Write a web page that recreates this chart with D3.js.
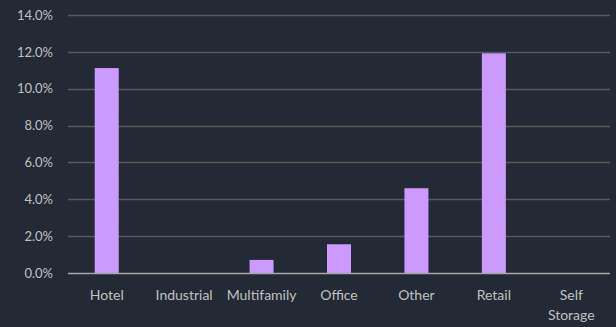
<!DOCTYPE html>
<html>
<head>
<meta charset="utf-8">
<script src="https://cdn.jsdelivr.net/npm/d3@7"></script>
<style>
  html, body { margin: 0; padding: 0; background: #232a35; }
  svg { display: block; }
</style>
</head>
<body>
<svg id="chart" width="616" height="327"></svg>
<script>
// --- chart data ---
var categories = ['Hotel', 'Industrial', 'Multifamily', 'Office', 'Other', 'Retail', 'Self Storage'];
var values     = [0.1112, 0, 0.0071, 0.0156, 0.046, 0.1192, 0];
var yTicks     = [0, 0.02, 0.04, 0.06, 0.08, 0.10, 0.12, 0.14];

var W = 616, H = 327;
var margin = { top: 15, right: 6, bottom: 54, left: 68 };

var svg = d3.select('#chart');

var x = d3.scaleBand()
  .domain(categories)
  .range([margin.left, W - margin.right])
  .paddingInner(0.69)
  .paddingOuter(0.345);

var y = d3.scaleLinear()
  .domain([0, 0.14])
  .range([H - margin.bottom, margin.top]);

var font = 'Lato, "Open Sans", sans-serif';

// gridlines
svg.append('g')
  .selectAll('line')
  .data(yTicks.slice(1))
  .enter()
  .append('line')
  .attr('x1', margin.left)
  .attr('x2', W - margin.right)
  .attr('y1', function(d) { return Math.round(y(d)) + 0.5; })
  .attr('y2', function(d) { return Math.round(y(d)) + 0.5; })
  .attr('stroke', '#595959')
  .attr('stroke-width', 1.3);

// y axis labels
var yAxis = d3.axisLeft(y)
  .tickValues(yTicks)
  .tickFormat(d3.format('.1%'))
  .tickSize(0)
  .tickPadding(15);

svg.append('g')
  .attr('transform', 'translate(' + margin.left + ',0)')
  .call(yAxis)
  .call(function(g) { g.select('.domain').remove(); })
  .selectAll('text')
  .attr('fill', '#c0c0c0')
  .attr('font-family', font)
  .attr('font-size', 13);

// bars
svg.append('g')
  .selectAll('rect')
  .data(values)
  .enter()
  .append('rect')
  .attr('x', function(d, i) { return x(categories[i]); })
  .attr('width', x.bandwidth())
  .attr('y', function(d) { return y(d); })
  .attr('height', function(d) { return y(0) - y(d); })
  .attr('fill', '#cc99ff');

// baseline
svg.append('line')
  .attr('x1', margin.left)
  .attr('x2', W - margin.right)
  .attr('y1', Math.round(y(0)) + 0.5)
  .attr('y2', Math.round(y(0)) + 0.5)
  .attr('stroke', '#a6a6a6')
  .attr('stroke-width', 1.5);

// x axis labels (wrap two-word label onto two lines)
var labels = svg.append('g')
  .selectAll('text')
  .data(categories)
  .enter()
  .append('text')
  .attr('x', function(d) { return x(d) + x.bandwidth() / 2; })
  .attr('y', y(0) + 27)
  .attr('text-anchor', 'middle')
  .attr('fill', '#c0c0c0')
  .attr('font-family', font)
  .attr('font-size', 14);

labels.each(function(d) {
  var t = d3.select(this);
  var words = d === 'Self Storage' ? d.split(' ') : [d];
  words.forEach(function(w, i) {
    t.append('tspan')
      .attr('x', t.attr('x'))
      .attr('dy', i === 0 ? 0 : 20)
      .text(w);
  });
});
</script>
</body>
</html>
